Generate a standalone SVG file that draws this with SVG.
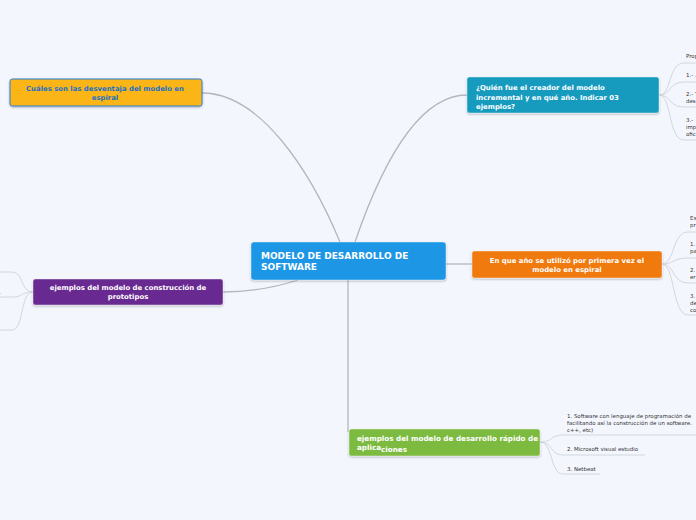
<svg xmlns="http://www.w3.org/2000/svg" width="696" height="520" viewBox="0 0 696 520">
<defs>
<filter id="sh" x="-5%" y="-20%" width="110%" height="150%">
<feDropShadow dx="0" dy="1" stdDeviation="0.8" flood-color="#000" flood-opacity="0.3"/>
</filter>
</defs>
<style>
.main{fill:none;stroke:#b3b6bd;stroke-width:1.3}
.leaf{fill:none;stroke:#cfd2d9;stroke-width:0.9}
.t{font-family:"DejaVu Sans",Verdana,sans-serif;font-weight:bold;font-size:6.9px;fill:#fff}
.c{text-anchor:middle}
.l{font-family:"DejaVu Sans",Verdana,sans-serif;font-size:5.45px;fill:#333}
.n{stroke:#fff;stroke-opacity:0.5;stroke-width:0.8}
</style>
<rect width="696" height="520" fill="#f3f6fd"/>
<g id="connectors">
<path class="main" d="M202,93 C260,93 310,170 340,242"/>
<path class="main" d="M355,242 C378,175 415,95 467,95"/>
<path class="main" d="M446,264 L472,264"/>
<path class="main" d="M298,280 C270,289 245,292 223,292"/>
<path class="main" d="M348,280 L348,432"/>
<path class="leaf" d="M659,95 C672,95 668,63 684,63 L696,63"/>
<path class="leaf" d="M659,95 C672,95 668,82 684,82 L696,82"/>
<path class="leaf" d="M659,95 C672,95 668,107 684,107 L696,107"/>
<path class="leaf" d="M659,95 C672,95 668,140 684,140 L696,140"/>
<path class="leaf" d="M662,264 C675,264 672,232 688,232 L696,232"/>
<path class="leaf" d="M662,264 C675,264 672,258 688,258 L696,258"/>
<path class="leaf" d="M662,264 C675,264 672,283 688,283 L696,283"/>
<path class="leaf" d="M662,264 C675,264 672,315 688,315 L696,315"/>
<path class="leaf" d="M33,292 C20,292 24,272 12,272 L0,272"/>
<path class="leaf" d="M33,292 C20,292 24,297 12,297 L0,297"/>
<path class="leaf" d="M33,292 C20,292 24,330 12,330 L0,330"/>
<path class="leaf" d="M540,442 C553,442 550,435 563,435 L696,435"/>
<path class="leaf" d="M540,442 C553,442 550,455 563,455 L645,455"/>
<path class="leaf" d="M540,442 C553,442 550,474 563,474 L600,474"/>
</g>
<g id="center">
<rect class="n" x="251" y="242" width="195" height="38" rx="3" fill="#1a96e5" filter="url(#sh)"/>
<text class="t" style="font-size:9px" x="261" y="259">MODELO DE DESARROLLO DE</text>
<text class="t" style="font-size:9px" x="261" y="270">SOFTWARE</text>
</g>
<g id="desventaja">
<rect x="10" y="79" width="192" height="27" rx="2.5" fill="#fbb515" stroke="#2f7fd6" stroke-width="1" filter="url(#sh)"/>
<text class="t c" style="fill:#2070c8" x="105" y="91">Cuáles son las  desventaja del modelo en</text>
<text class="t c" style="fill:#2070c8" x="105" y="100">espiral</text>
</g>
<g id="creador">
<rect class="n" x="467" y="77" width="192" height="36" rx="2.5" fill="#139bbf" filter="url(#sh)"/>
<text class="t" x="476" y="90">¿Quién fue el creador del modelo</text>
<text class="t" x="476" y="99.5">incremental y en qué año. Indicar 03</text>
<text class="t" x="476" y="109">ejemplos?</text>
</g>
<g id="creador-leaves">
<text class="l" x="686" y="58">Prop</text>
<text class="l" x="686" y="77">1.- .</text>
<text class="l" x="686" y="96">2.- T</text>
<text class="l" x="686" y="103">des</text>
<text class="l" x="686" y="122">3.-</text>
<text class="l" x="686" y="129">imp</text>
<text class="l" x="686" y="135.5">ofic</text>
</g>
<g id="primera-vez">
<rect class="n" x="472" y="251" width="190" height="27" rx="2.5" fill="#f07a0f" filter="url(#sh)"/>
<text class="t c" x="567" y="263">En que año se utilizó por primera vez el</text>
<text class="t c" x="567" y="272">modelo en espiral</text>
</g>
<g id="primera-vez-leaves">
<text class="l" x="690" y="220">Ex</text>
<text class="l" x="690" y="227">pr</text>
<text class="l" x="690" y="246">1.</text>
<text class="l" x="690" y="253">pa</text>
<text class="l" x="690" y="272">2.</text>
<text class="l" x="690" y="279">er</text>
<text class="l" x="690" y="298">3.</text>
<text class="l" x="690" y="305">de</text>
<text class="l" x="690" y="311.5">co</text>
</g>
<g id="prototipos">
<rect class="n" x="33" y="279" width="190" height="26" rx="2.5" fill="#682c90" filter="url(#sh)"/>
<text class="t c" x="128" y="290">ejemplos del modelo de construcción de</text>
<text class="t c" x="128" y="299">prototipos</text>
</g>
<g id="prototipos-leaves">
<text class="l" x="-1" y="294">.</text>
</g>
<g id="rapido">
<rect class="n" x="349" y="429" width="191" height="27" rx="2.5" fill="#7dba40" filter="url(#sh)"/>
<text class="t" style="font-size:7.2px" x="357" y="441">ejemplos del modelo de desarrollo rápido de</text>
<text class="t" style="font-size:7.2px" x="357" y="450">aplica<tspan dy="1.5">ciones</tspan></text>
</g>
<g id="rapido-leaves">
<text class="l" x="567" y="418">1. Software con lenguaje de programación de</text>
<text class="l" x="567" y="425">facilitando así la construcción de un software.</text>
<text class="l" x="567" y="432">c++, etc)</text>
<text class="l" x="567" y="451">2. Microsoft visual estudio</text>
<text class="l" x="567" y="471">3. Netbeat</text>
</g>
</svg>
